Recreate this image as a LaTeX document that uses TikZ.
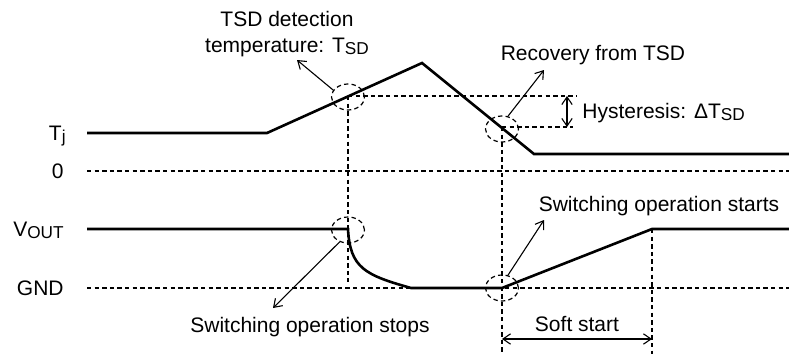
\documentclass[tikz,border=0pt]{standalone}
\usepackage{fontspec}
\setmainfont{Liberation Sans}
\usetikzlibrary{arrows.meta,shapes.geometric}
\newcommand\lowsub[1]{\raisebox{-1.4pt}{\fontsize{8.6}{8.6}\selectfont #1}}
\tikzset{
    wave/.style={line width=1.3pt},
    guide/.style={line width=0.6pt,dash pattern=on 2.2pt off 1.6pt},
    callout/.style={line width=0.55pt,-{Straight Barb[length=3.8pt,width=5.2pt]}},
    span/.style={line width=0.55pt,{Straight Barb[length=3.8pt,width=5.2pt]}-{Straight Barb[length=3.8pt,width=5.2pt]}},
    ring/.style={draw,ellipse,guide,minimum width=16.5pt,minimum height=13pt,inner sep=0pt},
    lbl/.style={inner sep=0pt}
}

\begin{document}
\begin{tikzpicture}[x=0.5pt,y=-0.5pt,font=\fontsize{10.5}{12.6}\selectfont]
    \useasboundingbox (0,0) rectangle (789,354);
    % junction temperature
    \coordinate (tjA) at (87,133);
    \coordinate (tjB) at (267,133);
    \coordinate (tjPeak) at (422,63);
    \coordinate (tjC) at (534,154);
    \coordinate (tjD) at (789,154);
    \coordinate (zeroA) at (87,171);
    \coordinate (zeroB) at (789,171);
    \coordinate (tsdPt) at (348,96);
    \coordinate (recPt) at (502,127);
    \coordinate (hTop) at (577,96);
    \coordinate (hBot) at (573,127);
    \coordinate (hArrTop) at (567,96);
    \coordinate (hArrBot) at (567,127);
    % output voltage
    \coordinate (voA) at (87,229);
    \coordinate (voStop) at (348,229);
    \coordinate (voLow) at (411,288);
    \coordinate (voStart) at (502,288);
    \coordinate (voHigh) at (652,229);
    \coordinate (voB) at (789,229);
    \coordinate (gndA) at (87,288);
    \coordinate (gndB) at (789,288);
    \coordinate (stopFoot) at (348,282);
    \coordinate (recFoot) at (502,354);
    \coordinate (highFoot) at (652,354);
    \coordinate (ssA) at (502,339);
    \coordinate (ssB) at (652,339);

    \draw[guide] (zeroA) -- (zeroB);
    \draw[guide] (gndA) -- (gndB);
    \draw[guide] (tsdPt) -- (hTop);
    \draw[guide] (recPt) -- (hBot);
    \draw[guide] (tsdPt) -- (stopFoot);
    \draw[guide] (recPt) -- (recFoot);
    \draw[guide] (voHigh) -- (highFoot);

    \draw[wave] (tjA) -- (tjB) -- (tjPeak) -- (tjC) -- (tjD);
    \draw[wave] (voA) -- (voStop) .. controls (350,268) and (365,275) .. (voLow)
        -- (voStart) -- (voHigh) -- (voB);

    \node[ring] (ringTsd) at (348,97) {};
    \node[ring] (ringRec) at (502,129) {};
    \node[ring] (ringStop) at (348,230) {};
    \node[ring] (ringStart) at (502,288) {};

    \node[lbl,anchor=base east] (tjLbl) at (66,140) {T\lowsub{j}};
    \node[lbl,anchor=base east] (zeroLbl) at (64,178) {0};
    \node[lbl,anchor=base east] (voutLbl) at (64,236) {V\lowsub{OUT}};
    \node[lbl,anchor=base east] (gndLbl) at (64,295) {GND};

    \node[lbl,align=center] (tsdTxt) at (287,34) {TSD detection\\temperature: T\lowsub{SD}};
    \node[lbl,anchor=base] (recTxt) at (593,60) {Recovery from TSD};
    \node[lbl,anchor=base west] (hysTxt) at (582,118) {Hysteresis: ΔT\lowsub{SD}};
    \node[lbl,anchor=base] (startTxt) at (659,211) {Switching operation starts};
    \node[lbl,anchor=base] (stopTxt) at (310,332) {Switching operation stops};
    \node[lbl,anchor=base] (ssTxt) at (577,331) {Soft start};

    \coordinate (tsdTip) at (297,60);
    \coordinate (recTip) at (544,70);
    \coordinate (stopTip) at (273,308);
    \coordinate (startTip) at (544,220);

    \draw[callout] (ringTsd.155) -- (tsdTip);
    \draw[callout] (ringRec.65) -- (recTip);
    \draw[callout] (ringStop.235) -- (stopTip);
    \draw[callout] (ringStart.65) -- (startTip);
    \draw[span] (hArrTop) -- (hArrBot);
    \draw[span] (ssA) -- (ssB);
\end{tikzpicture}
\end{document}
